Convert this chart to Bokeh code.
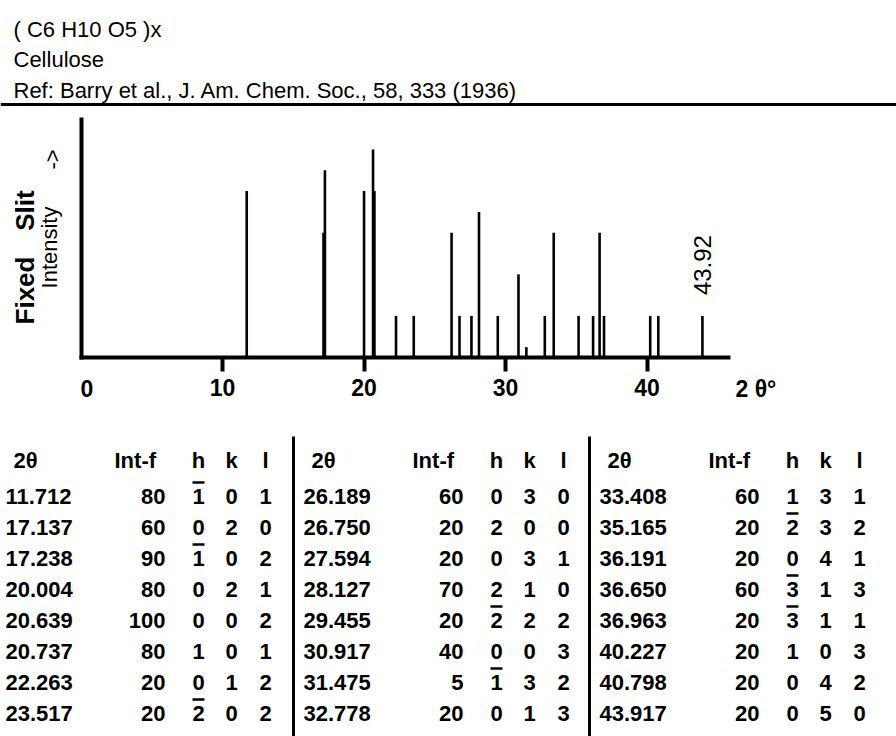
import numpy as np
from bokeh.plotting import figure
from bokeh.models import Range1d, LinearAxis, FixedTicker, ColumnDataSource
from bokeh.core.properties import value
from bokeh.embed import file_html
from bokeh.resources import INLINE

# ---------------- data ----------------
formula = "( C6 H10 O5 )x"
compound = "Cellulose"
reference = "Ref: Barry et al., J. Am. Chem. Soc., 58, 333 (1936)"

two_theta = [11.712, 17.137, 17.238, 20.004, 20.639, 20.737, 22.263, 23.517,
             26.189, 26.750, 27.594, 28.127, 29.455, 30.917, 31.475, 32.778,
             33.408, 35.165, 36.191, 36.650, 36.963, 40.227, 40.798, 43.917]
intensity = [80, 60, 90, 80, 100, 80, 20, 20,
             60, 20, 20, 70, 20, 40, 5, 20,
             60, 20, 20, 60, 20, 20, 20, 20]
h_idx = [-1, 0, -1, 0, 0, 1, 0, -2,
         0, 2, 0, 2, -2, 0, -1, 0,
         1, -2, 0, -3, -3, 1, 0, 0]
k_idx = [0, 2, 0, 2, 0, 0, 1, 0,
         3, 0, 3, 1, 2, 0, 3, 1,
         3, 3, 4, 1, 1, 0, 4, 5]
l_idx = [1, 0, 2, 1, 2, 1, 2, 2,
         0, 0, 1, 0, 2, 3, 2, 3,
         1, 2, 1, 3, 1, 3, 2, 0]

x_ticks = [10, 20, 30, 40]
x_label = "2 \u03b8\u00b0"
y_label_a = ["Fixed", "Slit"]
y_label_b = ["Intensity", "->"]
table_headers = ["2\u03b8", "Int-f", "h", "k", "l"]

# ---------------- layout ----------------
W, H = 896, 736
X0, SX = 80.5, 14.15     # px of 2theta=0, px per degree
Y0, SY = 357.0, 2.08     # px (from top) of intensity 0, px per unit
x_axis_end, y_axis_end = 45.76, 114.4

SANS = "Liberation Sans"

p = figure(width=W, height=H, output_backend="svg", toolbar_location=None,
           x_range=Range1d(-X0 / SX, (W - X0) / SX),
           y_range=Range1d((Y0 - H) / SY, Y0 / SY),
           x_axis_type=None, y_axis_type=None, min_border=0,
           outline_line_color=None, background_fill_color="white",
           border_fill_color="white")
p.extra_x_ranges = {"px": Range1d(0, W)}
p.extra_y_ranges = {"py": Range1d(H, 0)}

xaxis = LinearAxis(fixed_location=0, bounds=(0, x_axis_end),
                   ticker=FixedTicker(ticks=x_ticks),
                   axis_line_width=4, axis_line_color="black", axis_line_cap="square",
                   major_tick_line_width=4, major_tick_line_color="black",
                   major_tick_in=0, major_tick_out=14,
                   minor_tick_line_color=None,
                   major_label_standoff=7,
                   major_label_text_font=SANS,
                   major_label_text_font_size="23px",
                   major_label_text_font_style="bold",
                   major_label_text_color="black")
p.add_layout(xaxis, "below")

yaxis = LinearAxis(fixed_location=0, bounds=(0, y_axis_end),
                   ticker=FixedTicker(ticks=[]),
                   axis_line_width=4, axis_line_color="black", axis_line_cap="square",
                   major_tick_line_color=None, minor_tick_line_color=None,
                   major_label_text_color=None)
p.add_layout(yaxis, "left")

# peaks
src = ColumnDataSource(dict(x=two_theta, top=intensity, base=[0] * len(two_theta)))
p.segment(x0="x", y0="base", x1="x", y1="top", source=src,
          line_width=2.6, line_color="black")

# label of last peak
p.text(x=[two_theta[-1]], y=[intensity[-1] + 10], text=[f"{two_theta[-1]:.2f}"],
       angle=np.pi / 2, text_align="left", text_baseline="middle",
       text_font=value(SANS), text_font_size="24px", text_color="black")

# "0" tick label and axis title
p.text(x=[0], y=[0], text=["0"], x_offset=6, y_offset=31,
       text_align="center", text_baseline="middle",
       text_font=value(SANS), text_font_size="23px", text_font_style="bold")
p.text(x=[x_axis_end], y=[0], text=[x_label], x_offset=7, y_offset=31,
       text_align="left", text_baseline="middle",
       text_font=value(SANS), text_font_size="23px", text_font_style="bold")

# y-axis titles (rotated)
p.text(x=[24, 24], y=[290, 210], text=y_label_a, angle=np.pi / 2,
       text_align="center", text_baseline="middle",
       x_range_name="px", y_range_name="py",
       text_font=value(SANS), text_font_size="26px", text_font_style="bold")
p.text(x=[49, 52], y=[247, 159], text=y_label_b, angle=np.pi / 2,
       text_align="center", text_baseline="middle",
       x_range_name="px", y_range_name="py",
       text_font=value(SANS), text_font_size="22px")

# header
p.text(x=[13, 13, 13], y=[29, 59, 90], text=[formula, compound, reference],
       text_align="left", text_baseline="middle",
       x_range_name="px", y_range_name="py",
       text_font=value(SANS), text_font_size="22px", text_color="black")
p.segment(x0=[0], y0=[104], x1=[W], y1=[104], line_width=3, line_color="black",
          x_range_name="px", y_range_name="py")

# table
col_starts = [5, 303, 599]
rows = 8
header_y, first_y, step = 460, 496, 31
off_hdr = [8, 109, 193, 226, 260]
off_int, off_h, off_k, off_l = 160, 193, 226, 260

tx, ty, tt, ta = [], [], [], []
for c, s in enumerate(col_starts):
    for j, lab in enumerate(table_headers):
        tx.append(s + off_hdr[j]); ty.append(header_y); tt.append(lab)
        ta.append("left" if j < 2 else "center")

bar_x0, bar_x1, bar_y = [], [], []
for i in range(len(two_theta)):
    c, r = divmod(i, rows)
    s = col_starts[c]
    y = first_y + r * step
    tx += [s, s + off_int, s + off_h, s + off_k, s + off_l]
    ty += [y] * 5
    tt += [f"{two_theta[i]:.3f}", f"{intensity[i]}", f"{abs(h_idx[i])}",
           f"{k_idx[i]}", f"{l_idx[i]}"]
    ta += ["left", "right", "center", "center", "center"]
    if h_idx[i] < 0:
        bar_x0.append(s + off_h - 6); bar_x1.append(s + off_h + 6)
        bar_y.append(y - 14)

tsrc = ColumnDataSource(dict(x=tx, y=ty, text=tt, align=ta))
p.text(x="x", y="y", text="text", text_align="align", source=tsrc,
       text_baseline="middle", x_range_name="px", y_range_name="py",
       text_font=value(SANS), text_font_size="22px", text_font_style="bold",
       text_color="black")
p.segment(x0=bar_x0, y0=bar_y, x1=bar_x1, y1=bar_y, line_width=2.5, line_color="black",
          x_range_name="px", y_range_name="py")

sep_x = [s - 10 for s in col_starts[1:]]
p.segment(x0=sep_x, y0=[436] * len(sep_x), x1=sep_x, y1=[H] * len(sep_x),
          line_width=3, line_color="black", x_range_name="px", y_range_name="py")

open("out.html", "w").write(file_html(p, INLINE))
